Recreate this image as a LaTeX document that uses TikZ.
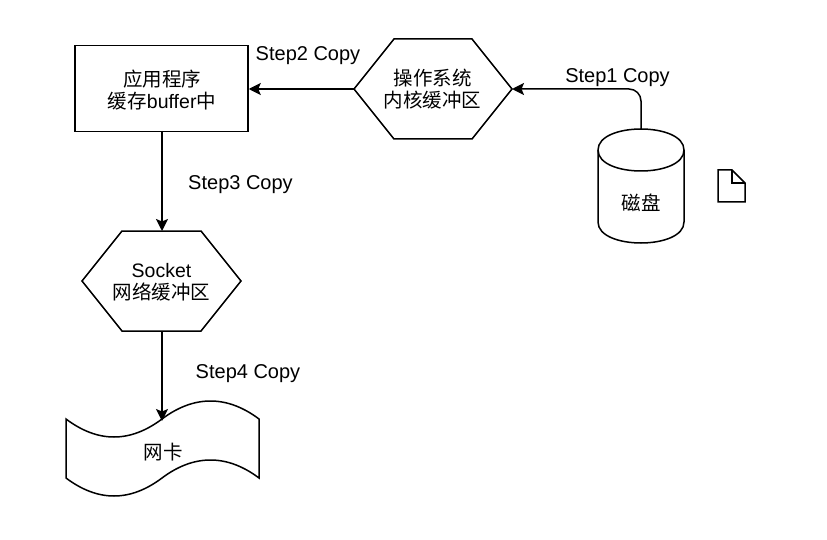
\documentclass[tikz,border=0pt]{standalone}
\usepackage{fontspec}
\setmainfont{Liberation Sans}
\newfontfamily\cjk{Noto Sans CJK SC}
\usetikzlibrary{arrows.meta}
\tikzset{
 px/.style={x=1pt,y=-1pt},
 shp/.style={draw=black,line width=1.5pt,fill=white},
 conn/.style={draw=black,line width=1.5pt,-{Stealth[length=12pt,width=12pt,inset=2.5pt]}},
 lbl/.style={inner sep=0pt,font=\fontsize{19.5}{22.5}\selectfont,align=center,text=black},
 stp/.style={inner sep=0pt,font=\fontsize{20}{23}\selectfont,text=black},
}
\begin{document}
\begin{tikzpicture}[px]
\useasboundingbox (0,0) rectangle (827,540);
\fill[white] (0,0) rectangle (827,540);
\node[shp,minimum width=173pt,minimum height=86pt,inner sep=0pt] (app) at (161.5,88.5) {};
\node[lbl] at (162,90) {{\cjk 应用程序}\\{\cjk 缓存}buffer{\cjk 中}};
\coordinate (appS) at (162,131);
\coordinate (osL) at (354,89); \coordinate (osR) at (512,89);
\draw[shp] (354,89) -- (394,39) -- (472,39) -- (512,89) -- (472,139) -- (394,139) -- cycle;
\node[lbl] (os) at (432.5,89) {\cjk 操作系统\\\cjk 内核缓冲区};
\coordinate (skT) at (162,231); \coordinate (skB) at (162,331);
\draw[shp] (82,281) -- (122,231) -- (201,231) -- (241,281) -- (201,331) -- (122,331) -- cycle;
\node[lbl] (sk) at (161.5,282) {Socket\\\cjk 网络缓冲区};
\coordinate (dkT) at (641,129);
\draw[shp] (598,150) .. controls (598,122) and (684,122) .. (684,150) -- (684,222) .. controls (684,250) and (598,250) .. (598,222) -- cycle;
\draw[shp,fill=none] (598,150) .. controls (598,178) and (684,178) .. (684,150);
\node[lbl] (dk) at (641,203) {\cjk 磁盘};
\draw[shp] (66,419) .. controls (98,443) and (130,443) .. (162,419) .. controls (194,395) and (227,395) .. (259,419) -- (259,478) .. controls (227,454) and (194,454) .. (162,478) .. controls (130,502) and (98,502) .. (66,478) -- cycle;
\node[lbl] (nic) at (163,452) {\cjk 网卡};
\coordinate (nicT) at (162,421);
\draw[shp] (718,170) -- (732,170) -- (745,183) -- (745,202) -- (718,202) -- cycle;
\draw[shp,fill=none] (732,170) -- (732,183) -- (745,183);
\draw[conn,rounded corners=12pt] (dkT) -- (641,89) -- (osR);
\draw[conn] (osL) -- (app.east |- osL);
\draw[conn] (appS) -- (skT);
\draw[conn] (skB) -- (nicT);
\node[stp] (s1) at (617.5,78) {Step1 Copy};
\node[stp] (s2) at (308,56) {Step2 Copy};
\node[stp] (s3) at (240.5,185) {Step3 Copy};
\node[stp] (s4) at (248,374) {Step4 Copy};
\end{tikzpicture}
\end{document}
